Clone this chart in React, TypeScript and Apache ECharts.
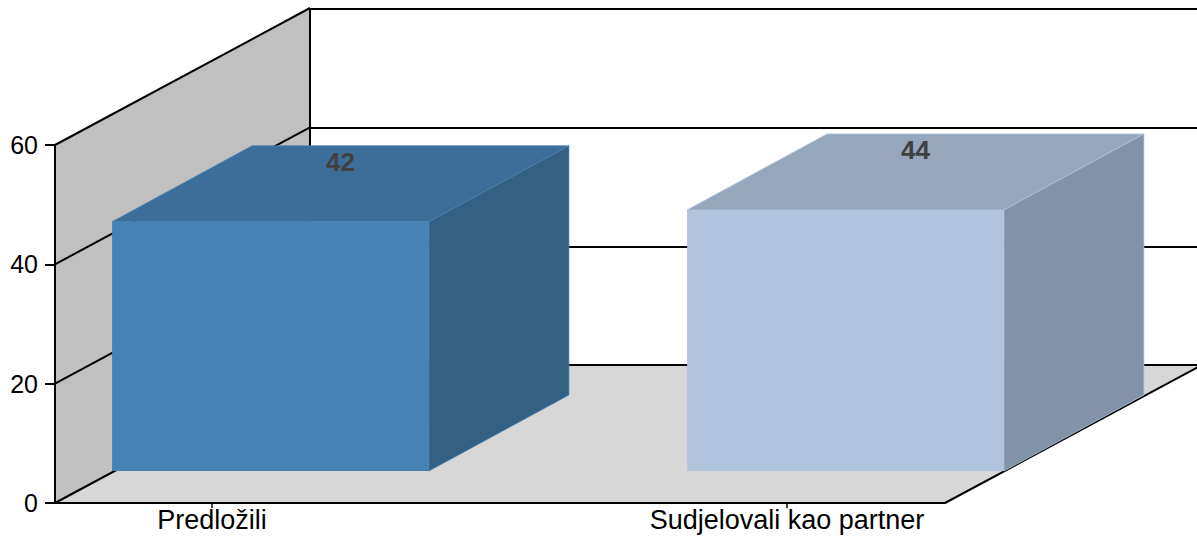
import React, { useEffect, useRef } from "react";
import * as echarts from "echarts";

const categories = ["Predložili", "Sudjelovali kao partner"];
const values = [42, 44];
const frontColors = ["#4682B4", "#B0C4DE"];
const topColors = ["#3D6E99", "#95A6BD"];
const sideColors = ["#336083", "#8393A7"];
const valueTicks = [0, 60];

const FONT = "'Liberation Sans', Arial, sans-serif";
const BLACK = "#000000";
const LINE = { color: BLACK, width: 2 };
const WALL_DX = 255;
const WALL_DY = -137;
const BAR_DX = 140;
const BAR_DY = -76;
const BAR_SHIFT = 58.5;
const BAR_RATIO = 0.551;

export default function App() {
  const ref = useRef<HTMLDivElement>(null);
  useEffect(() => {
    document.body.style.margin = "0";
    const chart = echarts.init(ref.current!, null, { renderer: "svg" });
    const axisRange = { min: valueTicks[0], max: valueTicks[1], interval: 20 };
    chart.setOption({
      animation: false,
      backgroundColor: "#ffffff",
      grid: [
        { left: 55, top: 145, width: 890, height: 358, outerBoundsMode: "none" },
        { left: 310, top: 9, width: 890, height: 356, outerBoundsMode: "none" },
        { left: -75.5, top: 145, width: 1150, height: 358, outerBoundsMode: "none" },
        { left: -75.5, top: 115, width: 1150, height: 356, outerBoundsMode: "none" },
      ],
      xAxis: [
        {
          gridIndex: 0,
          type: "category",
          data: categories,
          z: 3,
          axisLine: { show: true, lineStyle: LINE },
          axisTick: { show: false },
          axisLabel: { show: false },
        },
        { gridIndex: 1, type: "category", data: categories, show: false },
        {
          gridIndex: 2,
          type: "category",
          data: categories,
          z: 3,
          axisLine: { show: false },
          axisTick: { show: true, alignWithLabel: true, length: 5, lineStyle: { color: BLACK, width: 1.5 } },
          axisLabel: { color: BLACK, fontFamily: FONT, fontSize: 27, margin: 3 },
        },
        { gridIndex: 3, type: "category", data: categories, show: false },
      ],
      yAxis: [
        {
          gridIndex: 0,
          type: "value",
          ...axisRange,
          z: 3,
          axisLine: { show: true, lineStyle: LINE },
          axisTick: { show: true, length: 10, lineStyle: LINE },
          axisLabel: { color: BLACK, fontFamily: FONT, fontSize: 25, margin: 17 },
          splitLine: { show: false },
        },
        {
          gridIndex: 1,
          type: "value",
          ...axisRange,
          z: 2,
          axisLine: { show: true, lineStyle: LINE },
          axisTick: { show: false },
          axisLabel: { show: false },
          splitLine: { show: true, lineStyle: LINE },
        },
        { gridIndex: 2, type: "value", ...axisRange, show: false, splitLine: { show: false } },
        { gridIndex: 3, type: "value", ...axisRange, show: false, splitLine: { show: false } },
      ],
      series: [
        {
          type: "custom",
          name: "frame",
          xAxisIndex: 0,
          yAxisIndex: 0,
          z: 1,
          silent: true,
          clip: false,
          data: [[0]],
          renderItem: (params: any, api: any) => {
            const cs = params.coordSys;
            const x0 = cs.x;
            const x1 = cs.x + cs.width;
            const yAt = (v: number) => api.coord([0, v])[1];
            const yBase = yAt(valueTicks[0]);
            const yTop = yAt(valueTicks[1]);
            const wall = {
              type: "polygon",
              shape: {
                points: [
                  [x0, yTop],
                  [x0 + WALL_DX, yTop + WALL_DY],
                  [x0 + WALL_DX, yBase + WALL_DY],
                  [x0, yBase],
                ],
              },
              style: { fill: "#C0C0C0" },
            };
            const floor = {
              type: "polygon",
              shape: {
                points: [
                  [x0, yBase],
                  [x0 + WALL_DX, yBase + WALL_DY],
                  [x1 + WALL_DX, yBase + WALL_DY],
                  [x1, yBase],
                ],
              },
              style: { fill: "#D7D7D7" },
            };
            const edges = [0, 20, 40, 60].map((v) => ({
              type: "line",
              shape: { x1: x0, y1: yAt(v), x2: x0 + WALL_DX, y2: yAt(v) + WALL_DY },
              style: { stroke: BLACK, lineWidth: 2 },
            }));
            const right = {
              type: "line",
              shape: { x1, y1: yBase, x2: x1 + WALL_DX, y2: yBase + WALL_DY },
              style: { stroke: BLACK, lineWidth: 2 },
            };
            return { type: "group", children: [wall, floor, ...edges, right] };
          },
        },
        {
          type: "custom",
          name: "bars",
          xAxisIndex: 3,
          yAxisIndex: 3,
          z: 5,
          clip: false,
          data: values.map((v, i) => [i, v]),
          renderItem: (params: any, api: any) => {
            const i = api.value(0);
            const v = api.value(1);
            const top = api.coord([i, v]);
            const base = api.coord([i, 0]);
            const w = api.size([1, 0])[0] * BAR_RATIO;
            const l = top[0] + BAR_SHIFT - w / 2;
            const r = l + w;
            const t = top[1];
            const b = base[1];
            const idx = params.dataIndex;
            const edge = (fill: string) => ({ fill, stroke: frontColors[idx], lineWidth: 0.75 });
            return {
              type: "group",
              children: [
                {
                  type: "polygon",
                  shape: { points: [[l, t], [l + BAR_DX, t + BAR_DY], [r + BAR_DX, t + BAR_DY], [r, t]] },
                  style: edge(topColors[idx]),
                },
                {
                  type: "polygon",
                  shape: { points: [[r, t], [r + BAR_DX, t + BAR_DY], [r + BAR_DX, b + BAR_DY], [r, b]] },
                  style: edge(sideColors[idx]),
                },
                {
                  type: "rect",
                  shape: { x: l, y: t, width: w, height: b - t },
                  style: { fill: frontColors[idx] },
                },
                {
                  type: "text",
                  x: l + (w + BAR_DX) / 2,
                  y: t + BAR_DY / 2 - 22,
                  style: {
                    text: String(v),
                    fill: "#404040",
                    font: `bold 26px ${FONT}`,
                    textAlign: "center",
                    textVerticalAlign: "middle",
                  },
                },
              ],
            };
          },
        },
      ],
    });
    return () => chart.dispose();
  }, []);
  return <div ref={ref} style={{ width: 1197, height: 537 }} />;
}
